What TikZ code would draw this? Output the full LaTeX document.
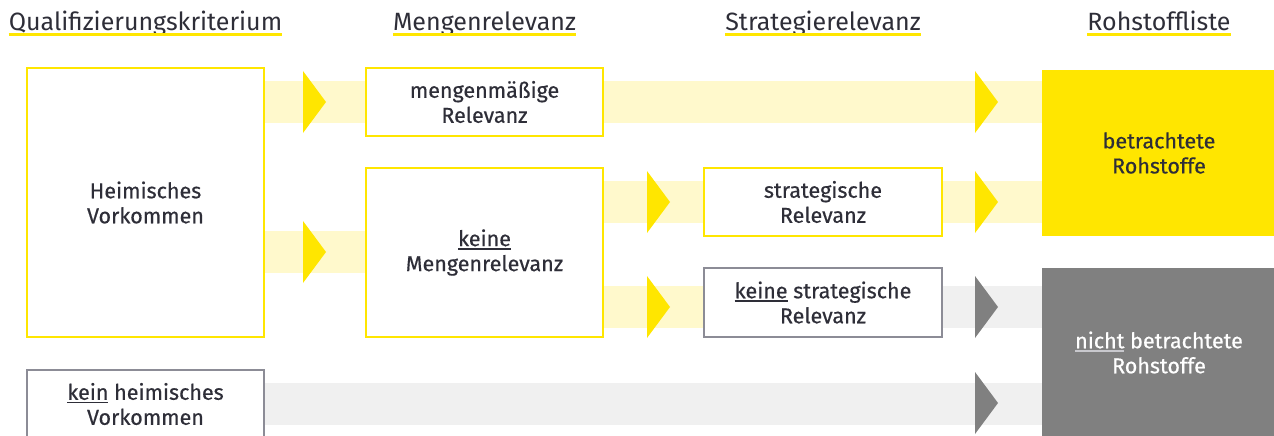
\documentclass[tikz,border=0pt]{standalone}
\usepackage{fontspec}
\setmainfont{Fira Sans}
\newfontfamily\boxfont{Fira Sans}[FakeBold=0.5]
\usetikzlibrary{positioning,backgrounds}
\definecolor{eyyellow}{RGB}{255,230,0}
\definecolor{eylight}{RGB}{255,249,204}
\definecolor{eygray}{RGB}{128,128,128}
\definecolor{eylgray}{RGB}{240,240,240}
\definecolor{eyborder}{RGB}{140,140,150}
\definecolor{eytext}{RGB}{46,46,56}
\definecolor{eyulight}{RGB}{200,200,205}
\newcommand{\unterstr}[2]{\setbox0\hbox{#2}\rlap{\textcolor{#1}{\rule[-3.5pt]{\wd0}{1.3pt}}}\box0\relax}
\newcommand{\pfeil}[3]{\fill[#3] (#1,#2-31) -- (#1+23,#2) -- (#1,#2+31) -- cycle;}

\begin{document}
\begin{tikzpicture}[x=1pt,y=-1pt,font=\boxfont\fontsize{21.5}{25}\selectfont,text=eytext,
  box/.style={draw=eyyellow,line width=1.5pt,fill=white,minimum width=237pt,align=center,inner sep=0pt},
  greybox/.style={box,draw=eyborder},
  head/.style={font=\rmfamily\fontsize{25}{28}\selectfont,inner sep=0pt,anchor=base},
  hline/.style={eyyellow,line width=2.5pt},
  band/.style={line width=42pt,eylight},
  greyband/.style={band,eylgray}]
\useasboundingbox (0,0) rectangle (1274,436);
\node[box,minimum height=269pt] (heim) at (145.5,202.5) {Heimisches\\Vorkommen};
\node[box,minimum height=68pt] (mmr) at (484.5,102) {mengenmäßige\\Relevanz};
\node[box,minimum height=169pt] (kmr) at (484.5,252.5) {\unterstr{eytext}{keine}\\Mengenrelevanz};
\node[box,minimum width=238pt,minimum height=68pt] (str) at (823,202) {strategische\\Relevanz};
\node[greybox,minimum width=238pt,minimum height=69pt] (kstr) at (823,302.5) {\unterstr{eytext}{keine} strategische\\Relevanz};
\node[greybox,minimum height=68pt] (kheim) at (145.5,404) {\unterstr{eytext}{kein} heimisches\\Vorkommen};
\node[fill=eyyellow,minimum width=234pt,minimum height=166pt,align=center,inner sep=0pt] (betr) at (1159,153) {betrachtete\\Rohstoffe};
\node[fill=eygray,text=white,minimum width=234pt,minimum height=169pt,align=center,inner sep=0pt] (nbetr) at (1159,352.5) {\unterstr{eyulight}{nicht} betrachtete\\Rohstoffe};

\node[head] (hQual) at (heim |- 0,31) {Qualifizierungskriterium};
\node[head] (hMenge) at (mmr |- 0,31) {Mengenrelevanz};
\node[head] (hStrat) at (str |- 0,31) {Strategierelevanz};
\node[head] (hRoh) at (betr |- 0,31) {Rohstoffliste};
\foreach \h in {hQual,hMenge,hStrat,hRoh}
  \draw[hline] ([yshift=-3.5pt]\h.base west) -- ([yshift=-3.5pt]\h.base east);

\begin{scope}[on background layer]
\draw[band] (heim.east |- mmr) -- (betr.west |- mmr);
\draw[band] (kmr.east |- str) -- (betr.west |- str);
\draw[band] (heim.east |- 0,252) -- (kmr.west |- 0,252);
\draw[band] (kmr.east |- 0,307) -- (kstr.west |- 0,307);
\draw[greyband] (kstr.east |- 0,307) -- (nbetr.west |- 0,307);
\draw[greyband] (kheim.east) -- (nbetr.west |- kheim);
\pfeil{303}{102}{eyyellow}
\pfeil{975}{102}{eyyellow}
\pfeil{647}{202}{eyyellow}
\pfeil{975}{202}{eyyellow}
\pfeil{303}{252}{eyyellow}
\pfeil{647}{307}{eyyellow}
\pfeil{975}{307}{eygray}
\pfeil{975}{403}{eygray}
\end{scope}
\end{tikzpicture}
\end{document}
